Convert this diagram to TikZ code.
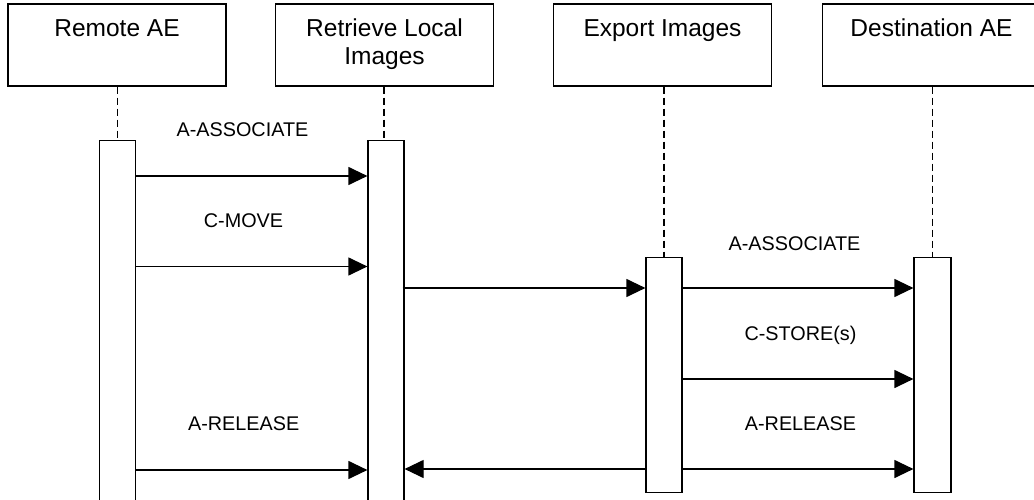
\documentclass[tikz,border=0pt]{standalone}
\usepackage{fontspec}
\setmainfont{Liberation Sans}
\usetikzlibrary{arrows.meta,positioning,calc}
\definecolor{ink}{HTML}{000000}
\tikzset{
  every picture/.style={line join=miter},
  head/.style={
    draw=ink,
    line width=1.2pt,
    align=center,
    minimum width=218pt,
    minimum height=82pt,
    inner sep=0pt,
    font=\fontsize{24.5}{28.5}\selectfont
  },
  act/.style={draw=ink, fill=white, line width=1.2pt, minimum width=36pt, inner sep=0pt},
  life/.style={draw=ink, line width=1.2pt, dash pattern=on 7pt off 4pt},
  msg/.style={draw=ink, line width=1.2pt, -{Triangle[length=19pt,width=18pt]}},
  lbl/.style={anchor=base, inner sep=0pt, font=\fontsize{19.8}{22}\selectfont, text=ink}
}
\begin{document}
\begin{tikzpicture}[x=1pt, y=-1pt]
  \useasboundingbox (0,0) rectangle (1034,500);

  % Participants
  \node[head] (remote)   at (117,45)   {Remote AE\strut\\\strut};
  \node[head] (retrieve) at (384.5,45) {Retrieve Local\strut\\Images\strut};
  \node[head] (export)   at (662.5,45) {Export Images\strut\\\strut};
  \node[head] (dest)     at (931.5,45) {Destination AE\strut\\\strut};

  % Activation bars
  \node[act, minimum height=375pt, anchor=north] (remoteAct)   at (117.5,140) {};
  \node[act, minimum height=375pt, anchor=north] (retrieveAct) at (386,140) {};
  \node[act, minimum height=235pt, anchor=north] (exportAct)   at (664,257) {};
  \node[act, minimum width=37pt, minimum height=235pt, anchor=north] (destAct) at (932.5,257) {};

  % Lifelines
  \draw[life] (remote.south -| remoteAct.north) -- (remoteAct.north);
  \draw[life] ([xshift=-2pt]retrieve.south -| retrieveAct.north) -- ([xshift=-2pt]retrieveAct.north);
  \draw[life] (export.south -| exportAct.north) -- (exportAct.north);
  \draw[life] (dest.south -| destAct.north) -- (destAct.north);

  % Messages
  \draw[msg] ([yshift=-36pt]remoteAct.north east) -- ([yshift=-36pt]retrieveAct.north west);
  \draw[msg] ([yshift=-126.5pt]remoteAct.north east) -- ([yshift=-126.5pt]retrieveAct.north west);
  \draw[msg] ([yshift=-148pt,xshift=-2pt]retrieveAct.north east) -- ([yshift=-31pt]exportAct.north west);
  \draw[msg] ([yshift=-31pt]exportAct.north east) -- ([yshift=-31pt]destAct.north west);
  \draw[msg] ([yshift=-122pt]exportAct.north east) -- ([yshift=-122pt]destAct.north west);
  \draw[msg] ([yshift=-330pt]remoteAct.north east) -- ([yshift=-330pt]retrieveAct.north west);
  \draw[msg] ([yshift=-212pt]exportAct.north west) -- ([yshift=-329pt]retrieveAct.north east);
  \draw[msg] ([yshift=-212pt]exportAct.north east) -- ([yshift=-212pt]destAct.north west);

  % Labels
  \node[lbl] (assocL)   at (242.5,136.5) {A-ASSOCIATE};
  \node[lbl] (move)     at (243.5,227.5) {C-MOVE};
  \node[lbl] (releaseL) at (243.7,430)   {A-RELEASE};
  \node[lbl] (assocR)   at (794.5,250.5) {A-ASSOCIATE};
  \node[lbl] (store)    at (800.5,340)   {C-STORE(s)};
  \node[lbl] (releaseR) at (800.5,430)   {A-RELEASE};
\end{tikzpicture}
\end{document}
